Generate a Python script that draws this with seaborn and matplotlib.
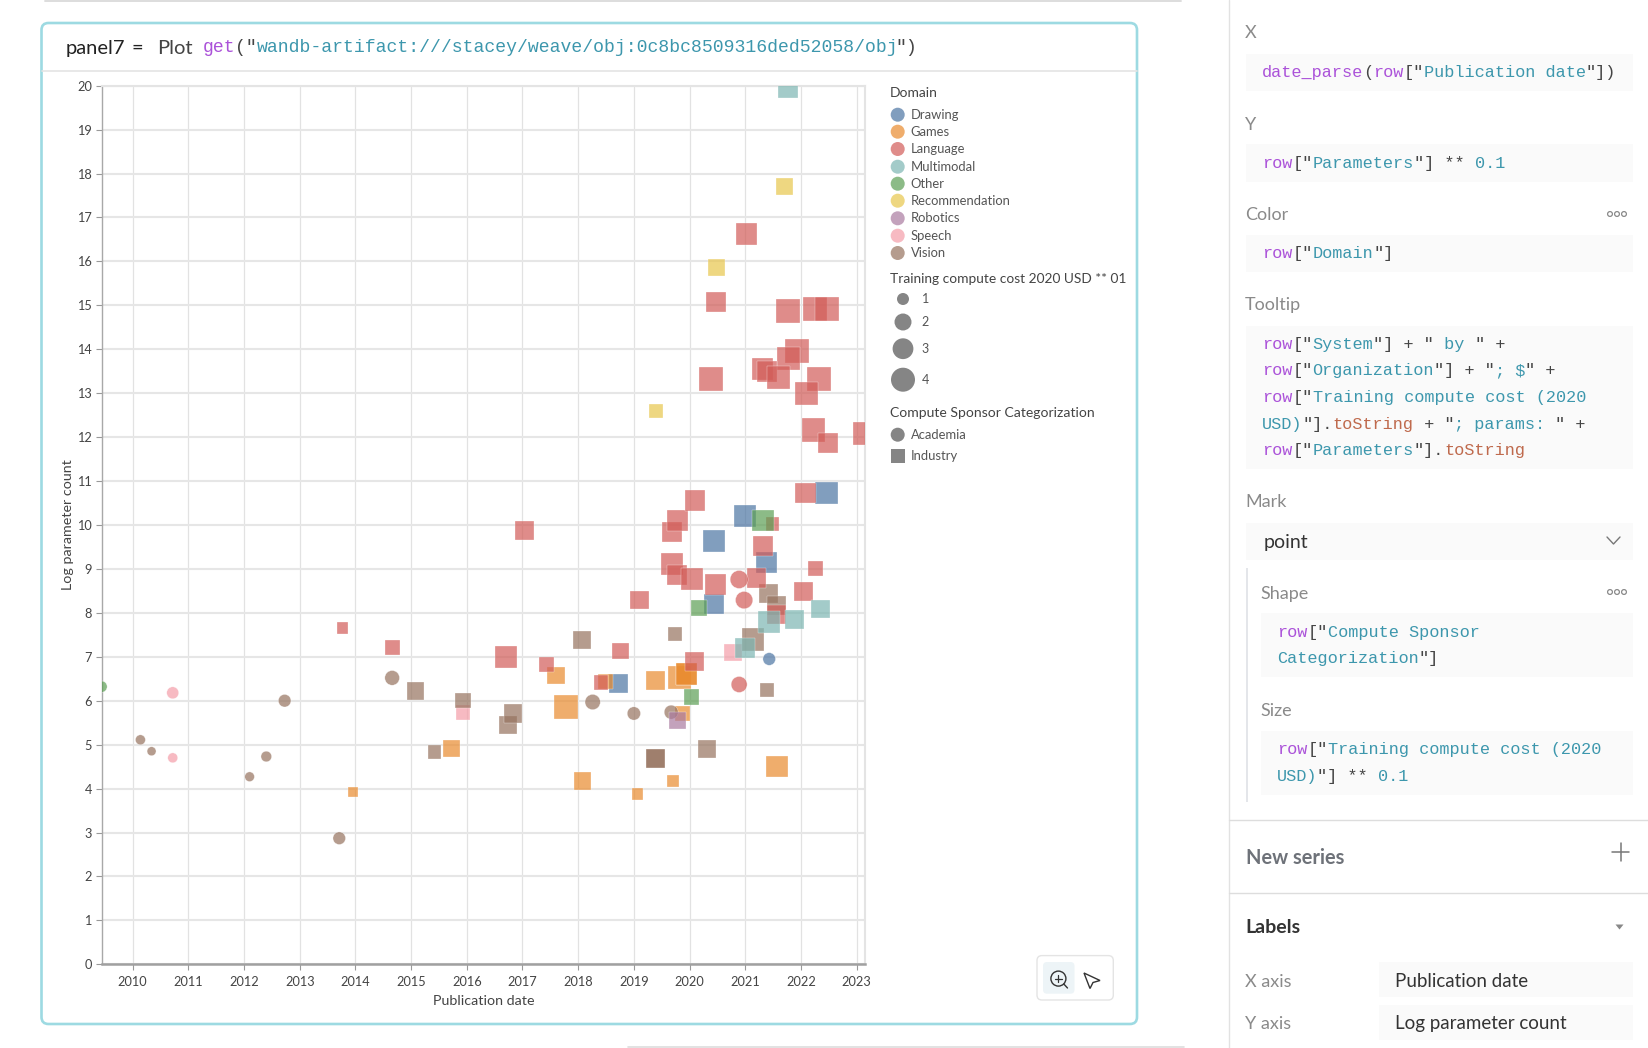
"""
Weave plot panel: log parameter count vs publication date, with the config sidebar.
"""

import pandas as pd
import matplotlib.pyplot as plt
import seaborn as sns
from matplotlib.patches import Circle, FancyBboxPatch, Rectangle, Polygon

# ---------- DATA ----------
drawing_year = [2018.72, 2020.44, 2020.44, 2020.99, 2021.38, 2022.46, 2021.43]
drawing_val = [6.40, 9.64, 8.21, 10.20, 9.14, 10.73, 6.95]
drawing_cost = [2.43, 3.26, 2.78, 3.36, 2.97, 3.57, 1.11]
drawing_kind = ["Industry"] * 6 + ["Academia"]

games_year = [2013.95, 2015.73, 2017.60, 2017.78, 2018.08, 2018.49, 2019.39, 2019.07, 2019.70,
              2019.82, 2019.94, 2019.94, 2019.87, 2021.57]
games_val = [3.92, 4.92, 6.58, 5.85, 4.17, 6.43, 6.46, 3.88, 4.17, 6.53, 6.61, 6.61, 5.71, 4.51]
games_cost = [0.69, 2.08, 2.08, 4.00, 2.08, 1.63, 2.60, 0.89, 0.89, 3.57, 3.16, 3.16, 1.50, 3.16]
games_kind = ["Industry"] * 14

language_year = [2013.77, 2014.67, 2016.71, 2017.04, 2017.43, 2018.41, 2018.76, 2019.10, 2019.69,
                 2019.69, 2019.78, 2019.78, 2020.05, 2020.09, 2020.10, 2020.47, 2021.20, 2021.31,
                 2021.49, 2021.56, 2022.05, 2022.08, 2022.22, 2022.26, 2022.49, 2023.14, 2021.02,
                 2020.48, 2021.77, 2022.25, 2022.47, 2021.93, 2021.77, 2021.31, 2021.39, 2021.60,
                 2020.39, 2022.32, 2022.10, 2020.89, 2020.98, 2020.89]
language_val = [7.66, 7.21, 7.00, 9.88, 6.82, 6.42, 7.13, 8.29, 9.83,
                9.12, 10.11, 8.87, 8.76, 6.89, 10.56, 8.65, 8.79, 9.53,
                10.02, 7.96, 8.48, 10.73, 12.16, 9.02, 11.86, 12.08, 16.62,
                15.07, 14.88, 14.91, 14.91, 13.96, 13.78, 13.55, 13.49, 13.35,
                13.32, 13.32, 13.00, 8.76, 8.29, 6.37]
language_cost = [0.92, 1.56, 3.46, 2.42, 1.56, 1.50, 1.93, 2.33, 2.78,
                 3.36, 3.16, 2.78, 3.36, 2.42, 2.97, 2.97, 2.60, 2.78,
                 1.23, 2.60, 2.42, 2.97, 3.78, 1.56, 2.78, 3.90, 3.24,
                 2.78, 4.34, 4.30, 4.20, 3.90, 3.67, 3.10, 3.00, 3.67,
                 3.90, 3.90, 3.78, 2.25, 2.09, 1.78]
language_kind = ["Industry"] * 39 + ["Academia"] * 3

multimodal_year = [2021.76, 2021.43, 2021.88, 2022.35, 2020.99]
multimodal_val = [19.95, 7.80, 7.85, 8.09, 7.20]
multimodal_cost = [2.80, 3.36, 2.42, 2.33, 2.78]
multimodal_kind = ["Industry"] * 5

other_year = [2021.32, 2020.17, 2020.03, 2009.44]
other_val = [10.11, 8.11, 6.08, 6.32]
other_cost = [3.16, 1.93, 1.65, 0.90]
other_kind = ["Industry"] * 3 + ["Academia"]

rec_year = [2021.70, 2020.48, 2019.39]
rec_val = [17.70, 15.86, 12.60]
rec_cost = [2.10, 2.00, 1.36]
rec_kind = ["Industry"] * 3

robotics_year = [2019.78]
robotics_val = [5.55]
robotics_cost = [2.08]
robotics_kind = ["Industry"]

speech_year = [2010.72, 2010.72, 2015.93, 2020.78]
speech_val = [6.18, 4.70, 5.73, 7.10]
speech_cost = [1.00, 0.69, 1.50, 2.09]
speech_kind = ["Academia", "Academia", "Industry", "Industry"]

vision_year = [2021.42, 2021.56, 2021.14, 2019.73, 2018.07, 2021.39, 2020.32, 2019.39, 2019.39,
               2016.74, 2016.83, 2015.93, 2015.08, 2015.42, 2010.14, 2010.34, 2012.10, 2012.40,
               2012.73, 2013.71, 2014.66, 2018.26, 2019.00, 2019.67]
vision_val = [8.44, 8.17, 7.39, 7.53, 7.38, 6.24, 4.89, 4.68, 4.68,
              5.45, 5.72, 6.00, 6.22, 4.83, 5.11, 4.85, 4.27, 4.73,
              6.00, 2.87, 6.52, 5.97, 5.71, 5.74]
vision_cost = [2.33, 2.60, 3.57, 1.36, 2.42, 1.36, 2.25, 2.43, 2.43,
               2.08, 2.50, 1.63, 2.08, 1.23, 0.69, 0.56, 0.65, 0.79,
               1.10, 1.10, 1.50, 1.63, 1.23, 1.36]
vision_kind = ["Industry"] * 14 + ["Academia"] * 10

domains = ["Drawing", "Games", "Language", "Multimodal", "Other", "Recommendation",
           "Robotics", "Speech", "Vision"]
domain_colors = ["#4c75a3", "#e98b2e", "#d25c58", "#7cb6b2", "#5c9e54", "#e8c64c",
                 "#aa7ba0", "#f49da8", "#96735f"]
year_ticks = list(range(2010, 2024))
value_ticks = list(range(0, 21))
size_ticks = [1, 2, 3, 4]
sponsors = ["Academia", "Industry"]

# ---------- BUILD TABLE ----------
groups = [
    ("Drawing", drawing_year, drawing_val, drawing_cost, drawing_kind),
    ("Games", games_year, games_val, games_cost, games_kind),
    ("Speech", speech_year, speech_val, speech_cost, speech_kind),
    ("Recommendation", rec_year, rec_val, rec_cost, rec_kind),
    ("Vision", vision_year, vision_val, vision_cost, vision_kind),
    ("Robotics", robotics_year, robotics_val, robotics_cost, robotics_kind),
    ("Language", language_year, language_val, language_cost, language_kind),
    ("Multimodal", multimodal_year, multimodal_val, multimodal_cost, multimodal_kind),
    ("Other", other_year, other_val, other_cost, other_kind),
]
frames = []
for name, yr, val, cost, kind in groups:
    frames.append(pd.DataFrame({"Domain": name, "year": yr, "value": val, "cost": cost, "sponsor": kind}))
df = pd.concat(frames, ignore_index=True)

# ---------- FIGURE ----------
sns.set_theme(style="whitegrid")
SANS = ["Lato", "DejaVu Sans"]
MONO = "Liberation Mono"
plt.rcParams["font.family"] = SANS

W, H = 1648, 1048
fig = plt.figure(figsize=(W / 100, H / 100), dpi=100, facecolor="white")
ax = fig.add_axes([101.6 / W, (H - 964.3) / H, (865 - 101.6) / W, (964.3 - 85.7) / H])

# 12 px across per sqrt(cost), converted to points squared
PX = 0.72
S4 = 4 * (12 * PX) ** 2
sns.scatterplot(data=df, x="year", y="value", hue="Domain", hue_order=domains,
                palette=dict(zip(domains, domain_colors)), style="sponsor",
                markers={"Academia": "o", "Industry": "s"}, size="cost",
                size_norm=(0, 4), sizes=(0, S4), alpha=0.7, edgecolor="white",
                linewidth=0.3, legend=False, ax=ax, zorder=3)

ax.set_xlim(2009.443, 2023.15)
ax.set_ylim(0, 20)
ax.set_xticks(year_ticks)
ax.set_yticks(value_ticks)
ax.tick_params(axis="both", length=4, width=0.8, color="#999999", labelsize=9.2,
               labelcolor="#444444", bottom=True, left=True)
ax.tick_params(axis="x", pad=4.5)
ax.tick_params(axis="y", pad=3)
ax.xaxis.grid(True, color="#e2e2e2", linewidth=0.9)
ax.yaxis.grid(True, color="#e6e6e6", linewidth=1.5)
ax.set_axisbelow(True)
for side in ["top", "right"]:
    ax.spines[side].set_color("#e4e4e4")
    ax.spines[side].set_linewidth(1.5)
ax.spines["left"].set_color("#a8a8a8")
ax.spines["left"].set_linewidth(1.0)
ax.spines["bottom"].set_color("#a0a0a0")
ax.spines["bottom"].set_linewidth(1.8)
ax.set_xlabel("Publication date", fontsize=10.3, color="#444444", labelpad=5)
ax.set_ylabel("Log parameter count", fontsize=10.3, color="#444444", labelpad=2)

# ---------- PAGE CHROME (pixel coordinates) ----------
ui = fig.add_axes([0, 0, 1, 1], zorder=5)
ui.set_xlim(0, W)
ui.set_ylim(H, 0)
ui.axis("off")
ui.patch.set_alpha(0)

PURPLE, TEAL, DARK, RUST = "#ab52d9", "#3d97ad", "#454545", "#bf6a4d"


def label(x, y, text, size=13, color="#888888", weight="normal", family=None, ha="left"):
    # y is the visual middle of the text, so sit the baseline a bit lower
    ui.text(x, y + size * 0.48, text, fontsize=size, color=color, fontweight=weight,
            family=family or SANS, ha=ha, va="baseline")


def code(x, y, parts, size=12.15, char=10.12):
    col = 0
    for text, color in parts:
        ui.text(x + col * char, y + 5, text, fontsize=size, color=color, family=MONO,
                ha="left", va="baseline")
        col += len(text)


def box(x0, y0, x1, y1, fill="#fafafa"):
    ui.add_patch(Rectangle((x0, y0), x1 - x0, y1 - y0, facecolor=fill, edgecolor="none"))


def dots(x, y):
    for dx in (-7, 0, 7):
        ui.add_patch(Circle((x + dx, y), 2.4, facecolor="white", edgecolor="#8a8a8a", linewidth=0.9))


# panel frame and header
ui.add_patch(FancyBboxPatch((41.5, 23), 1095.5, 1001, boxstyle="round,pad=0,rounding_size=7",
                            facecolor="none", edgecolor="#9ddae2", linewidth=1.9))
ui.plot([42, 1137], [71.3, 71.3], color="#e4e4e4", linewidth=1.2)
ui.plot([45, 1181], [0.5, 0.5], color="#dddddd", linewidth=1.4)
ui.plot([628, 1184], [1047, 1047], color="#dddddd", linewidth=1.2)
label(65.5, 47, "panel7", size=14.5, color="#222222")
label(132, 47, "=", size=14.5, color="#222222")
label(157.5, 47, "Plot", size=14.5, color="#444444")
code(202.5, 46.5, [("get", PURPLE), ('("', DARK),
                   ("wandb-artifact:///stacey/weave/obj:0c8bc8509316ded52058/obj", TEAL), ('")', DARK)],
     size=13.1, char=10.83)

# legend: Domain
LEG = "#555555"
label(890, 92.3, "Domain", size=10, color="#444444")
domain_y = [114.7, 131.7, 149, 166.7, 183.7, 200.7, 218.3, 235.7, 253]
for name, color, yy in zip(domains, domain_colors, domain_y):
    ui.add_patch(Circle((897.7, yy), 7, facecolor=color, alpha=0.7, edgecolor="none"))
    label(910.8, yy - 0.5, name, size=9.4, color=LEG)

# legend: size
label(890, 278.3, "Training compute cost 2020 USD ** 01", size=9.9, color="#444444")
size_y = [299, 322, 348.7, 379.7]
for tick, yy in zip(size_ticks, size_y):
    ui.add_patch(Circle((903, yy), 6 * tick ** 0.5, facecolor="#858585", edgecolor="none"))
    label(921.7, yy, str(tick), size=9, color=LEG)

# legend: shape
label(890, 412.3, "Compute Sponsor Categorization", size=10.1, color="#444444")
ui.add_patch(Circle((897.7, 434.7), 7, facecolor="#858585", edgecolor="none"))
ui.add_patch(Rectangle((890.7, 449), 14, 14, facecolor="#858585", edgecolor="none"))
label(910.8, 434.2, sponsors[0], size=9.4, color=LEG)
label(910.8, 455.5, sponsors[1], size=9.4, color=LEG)

# toolbar
ui.add_patch(FancyBboxPatch((1037, 955.6), 76.3, 44.4, boxstyle="round,pad=0,rounding_size=5",
                            facecolor="white", edgecolor="#e4e4e4", linewidth=1.0))
ui.add_patch(FancyBboxPatch((1043, 962), 31.5, 31.7, boxstyle="round,pad=0,rounding_size=4",
                            facecolor="#edf4f7", edgecolor="none"))
ui.add_patch(Circle((1058.4, 978.6), 7.5, facecolor="none", edgecolor="#333333", linewidth=1.0))
ui.plot([1063.8, 1067.5], [984, 988], color="#333333", linewidth=1.0)
ui.plot([1055, 1062], [978.6, 978.6], color="#333333", linewidth=0.9)
ui.plot([1058.4, 1058.4], [975, 982], color="#333333", linewidth=0.9)
ui.add_patch(Polygon([[1084, 973], [1100, 980.5], [1093, 982.5], [1090, 988.5]], closed=True,
                     facecolor="none", edgecolor="#333333", linewidth=1.0))

# sidebar
GRAY = "#8a8a8a"
ui.plot([1229.5, 1229.5], [0, H], color="#e2e2e2", linewidth=1.0)
label(1245, 32, "X", size=13, color=GRAY)
box(1246, 54, 1633, 90.7)
code(1262, 72, [("date_parse", PURPLE), ("(", DARK), ("row", PURPLE), ('["', DARK),
                ("Publication date", TEAL), ('"])', DARK)])

label(1245, 124, "Y", size=13, color=GRAY)
box(1246, 144, 1633, 181.7)
code(1262, 163, [("row", PURPLE), ('["', DARK), ("Parameters", TEAL), ('"] ** ', DARK), ("0.1", TEAL)])

label(1245, 214, "Color", size=13, color=GRAY)
dots(1617, 214)
box(1246, 235, 1633, 271.7)
code(1262, 253, [("row", PURPLE), ('["', DARK), ("Domain", TEAL), ('"]', DARK)])

label(1245, 304, "Tooltip", size=13, color=GRAY)
box(1246, 326, 1633, 469)
code(1262, 344, [("row", PURPLE), ('["', DARK), ("System", TEAL), ('"] + "', DARK), (" by ", TEAL), ('" +', DARK)])
code(1262, 370, [("row", PURPLE), ('["', DARK), ("Organization", TEAL), ('"] + "', DARK), ("; $", TEAL), ('" +', DARK)])
code(1262, 397, [("row", PURPLE), ('["', DARK), ("Training compute cost (2020", TEAL)])
code(1262, 424, [("USD)", TEAL), ('"].', DARK), ("toString", RUST), (' + "', DARK), ("; params: ", TEAL), ('" +', DARK)])
code(1262, 450, [("row", PURPLE), ('["', DARK), ("Parameters", TEAL), ('"].', DARK), ("toString", RUST)])

label(1245, 501, "Mark", size=13, color=GRAY)
box(1246, 523, 1633, 560)
label(1263.5, 541, "point", size=14, color="#333333")
ui.plot([1607, 1613.5, 1620], [537, 544, 537], color="#777777", linewidth=1.0)

ui.add_patch(Rectangle((1246, 568), 2, 234, facecolor="#e4e6ea", edgecolor="none"))
label(1260.5, 592.7, "Shape", size=13, color=GRAY)
dots(1617, 592)
box(1261.5, 613, 1633, 676.6)
code(1277, 632, [("row", PURPLE), ('["', DARK), ("Compute Sponsor", TEAL)])
code(1277, 658, [("Categorization", TEAL), ('"]', DARK)])

label(1260.5, 710, "Size", size=13, color=GRAY)
box(1261.5, 731, 1633, 795)
code(1277, 749, [("row", PURPLE), ('["', DARK), ("Training compute cost (2020", TEAL)])
code(1277, 776, [("USD)", TEAL), ('"] ** ', DARK), ("0.1", TEAL)])

ui.plot([1229.5, W], [819.6, 819.6], color="#dddddd", linewidth=1.0)
label(1246, 857, "New series", size=14.4, color="#6e7279", weight="bold")
ui.plot([1612, 1629.5], [852, 852], color="#777777", linewidth=1.1)
ui.plot([1620.7, 1620.7], [843, 861], color="#777777", linewidth=1.1)
ui.plot([1229.5, W], [893, 893], color="#dddddd", linewidth=1.0)

label(1245.5, 926.6, "Labels", size=14, color="#333333", weight="bold")
ui.add_patch(Polygon([[1615.5, 924.5], [1623.5, 924.5], [1619.5, 929.5]], closed=True,
                     facecolor="#888888", edgecolor="none"))
label(1245, 981, "X axis", size=13, color=GRAY)
box(1379, 962, 1633, 997)
label(1395, 981, "Publication date", size=13.5, color="#333333")
label(1245, 1023, "Y axis", size=13, color=GRAY)
box(1379, 1005, 1633, 1040)
label(1395, 1023, "Log parameter count", size=13.5, color="#333333")

# ---------- SAVE ----------
fig.savefig("out.png", dpi=100)
plt.close(fig)
